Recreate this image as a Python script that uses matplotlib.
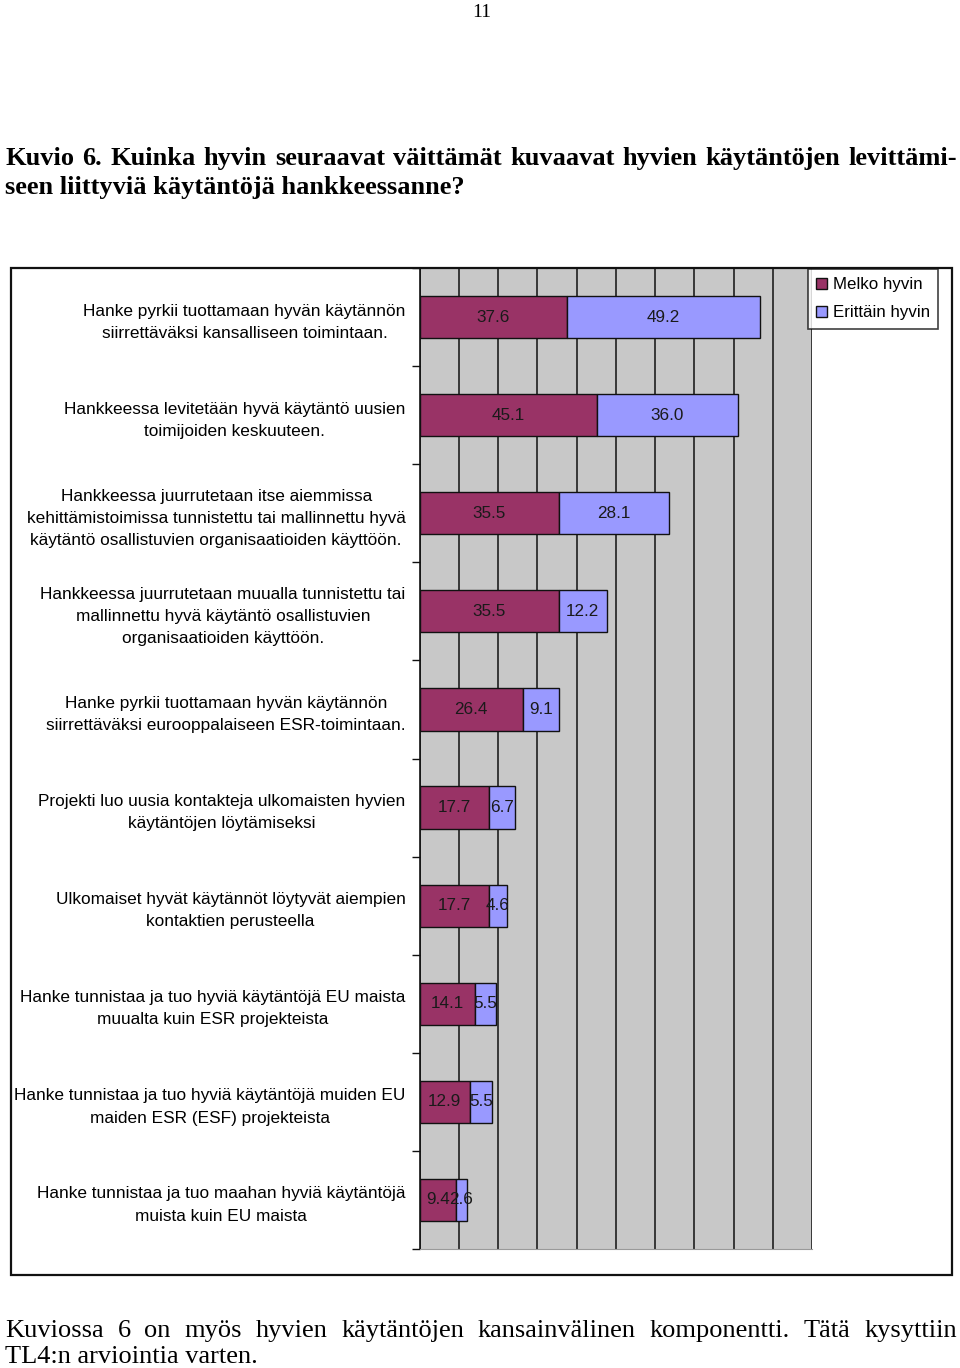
import matplotlib.pyplot as plt
from matplotlib.patches import Rectangle

# 圖表資料
categories = [
    'Hanke pyrkii tuottamaan hyvän käytännön\nsiirrettäväksi kansalliseen toimintaan.',
    'Hankkeessa levitetään hyvä käytäntö uusien\ntoimijoiden keskuuteen.',
    'Hankkeessa juurrutetaan itse aiemmissa\nkehittämistoimissa tunnistettu tai mallinnettu hyvä\nkäytäntö osallistuvien organisaatioiden käyttöön.',
    'Hankkeessa juurrutetaan muualla tunnistettu tai\nmallinnettu hyvä käytäntö osallistuvien\norganisaatioiden käyttöön.',
    'Hanke pyrkii tuottamaan hyvän käytännön\nsiirrettäväksi eurooppalaiseen ESR-toimintaan.',
    'Projekti luo uusia kontakteja ulkomaisten hyvien\nkäytäntöjen löytämiseksi',
    'Ulkomaiset hyvät käytännöt löytyvät aiempien\nkontaktien perusteella',
    'Hanke tunnistaa ja tuo hyviä käytäntöjä EU maista\nmuualta kuin ESR projekteista',
    'Hanke tunnistaa ja tuo hyviä käytäntöjä muiden EU\nmaiden ESR (ESF) projekteista',
    'Hanke tunnistaa ja tuo maahan hyviä käytäntöjä\nmuista kuin EU maista',
]
melko = [37.6, 45.1, 35.5, 35.5, 26.4, 17.7, 17.7, 14.1, 12.9, 9.4]
erittain = [49.2, 36.0, 28.1, 12.2, 9.1, 6.7, 4.6, 5.5, 5.5, 2.6]
series_names = ['Melko hyvin', 'Erittäin hyvin']

title_line1 = 'Kuvio 6. Kuinka hyvin seuraavat väittämät kuvaavat hyvien käytäntöjen levittämi-'
title_line2 = 'seen liittyviä käytäntöjä hankkeessanne?'
footer_line1 = 'Kuviossa 6 on myös hyvien käytäntöjen kansainvälinen komponentti. Tätä kysyttiin'
footer_line2 = 'TL4:n arviointia varten.'
page_number = '11'

W, H = 960, 1368


def justify(fig, text, y, x0, x1, **kw):
    # 把一行文字的單字平均分散到 x0..x1 (像素)
    r = fig.canvas.get_renderer()
    words = text.split(' ')
    items = []
    total = 0
    for w in words:
        t = fig.text(0, 0, w, **kw)
        wd = t.get_window_extent(renderer=r).width
        items.append((t, wd))
        total += wd
    gap = (x1 - x0 - total) / (len(words) - 1)
    x = x0
    for t, wd in items:
        t.set_position((x / W, 1 - y / H))
        x += wd + gap


def main():
    fig = plt.figure(figsize=(9.6, 13.68), dpi=100)
    serif = 'Liberation Serif'
    sans = 'Liberation Sans'

    # 頁碼與標題
    fig.text(482 / W, 1 - 17 / H, page_number, family=serif, fontsize=14,
             ha='center', va='baseline')
    justify(fig, title_line1, 165, 5, 957, family=serif, fontsize=19,
            fontweight='bold', va='baseline')
    fig.text(5 / W, 1 - 194 / H, title_line2, family=serif, fontsize=19,
             fontweight='bold', va='baseline')

    # 外框
    fig.patches.append(Rectangle((10.5 / W, 1 - 1275 / H), (952 - 10.5) / W,
                                 (1275 - 268) / H, transform=fig.transFigure,
                                 fill=False, edgecolor='#111111', linewidth=1.6))

    ax = fig.add_axes([419.5 / W, 1 - 1249 / H, (812 - 419.5) / W, (1249 - 268) / H])
    ax.set_facecolor('#c8c8c8')

    y = list(range(len(categories)))
    b1 = ax.barh(y, melko, height=0.43, color='#993366', edgecolor='#111111',
                 linewidth=1.0, label=series_names[0], zorder=3)
    b2 = ax.barh(y, erittain, left=melko, height=0.43, color='#9999ff',
                 edgecolor='#111111', linewidth=1.0, label=series_names[1], zorder=3)
    ax.bar_label(b1, fmt='%.1f', label_type='center', fontsize=12.3,
                 family=sans, color='#1a1a1a', zorder=4)
    ax.bar_label(b2, fmt='%.1f', label_type='center', fontsize=12.3,
                 family=sans, color='#1a1a1a', zorder=4)

    ax.set_xlim(0, 100)
    ax.set_ylim(len(categories) - 0.5, -0.5)
    ax.set_xticks(range(0, 101, 10))
    ax.tick_params(axis='x', length=0, labelbottom=False)
    ax.grid(axis='x', color='#111111', linewidth=1.1, zorder=1)
    ax.set_axisbelow(True)

    ax.set_yticks(y)
    ax.set_yticklabels(categories, family=sans, fontsize=12.4,
                       multialignment='center', linespacing=1.6)
    ax.tick_params(axis='y', which='major', length=0, pad=10)
    ax.set_yticks([i - 0.5 for i in range(len(categories) + 1)], minor=True)
    ax.tick_params(axis='y', which='minor', length=6, width=1.0, color='#111111')

    for s in ['top', 'right']:
        ax.spines[s].set_visible(False)
    ax.spines['bottom'].set_color('#9a9a9a')
    ax.spines['left'].set_color('#111111')
    ax.spines['left'].set_linewidth(1.2)

    leg = ax.legend(loc='upper left', bbox_to_anchor=(808 / W, 1 - 269 / H),
                    bbox_transform=fig.transFigure, fancybox=False,
                    prop={'family': sans, 'size': 12.2}, handlelength=0.6,
                    handleheight=0.6, handletextpad=0.35, borderpad=0.5,
                    labelspacing=0.75, borderaxespad=0)
    leg.get_frame().set_edgecolor('#111111')
    leg.get_frame().set_linewidth(1.2)

    # 頁尾文字
    justify(fig, footer_line1, 1337, 5, 957, family=serif, fontsize=19,
            va='baseline')
    fig.text(5 / W, 1 - 1363 / H, footer_line2, family=serif, fontsize=19,
             va='baseline')

    fig.savefig('out.png', dpi=100)


if __name__ == "__main__":
    main()
